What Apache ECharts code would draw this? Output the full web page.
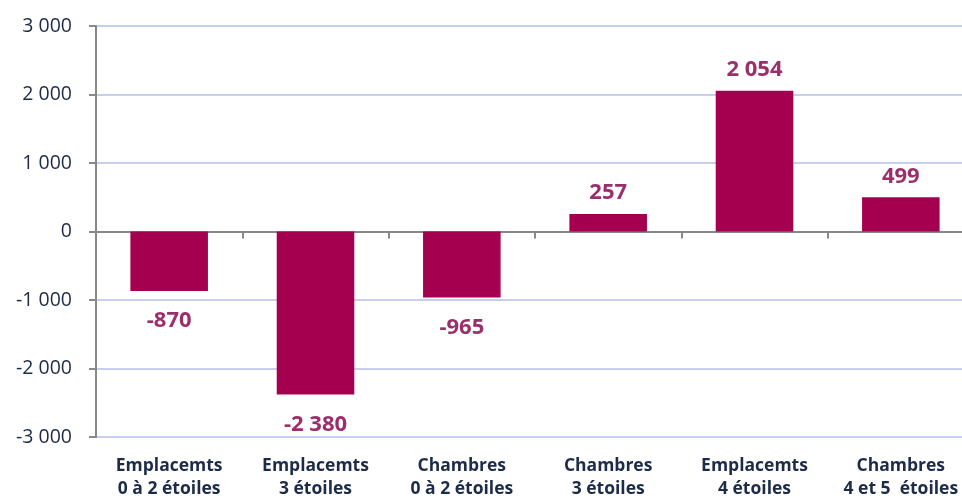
<!DOCTYPE html>
<html>
<head>
<meta charset="utf-8">
<script src="https://cdn.jsdelivr.net/npm/echarts@6/dist/echarts.min.js"></script>
<style>
  * { margin: 0; padding: 0; }
  body { background: #fff; }
</style>
</head>
<body>
<div id="mychart" style="width: 962px; height: 501px;"></div>
<script>
const catName = ['Emplacemts\n0 à 2 étoiles', 'Emplacemts\n3 étoiles', 'Chambres\n0 à 2 étoiles', 'Chambres\n3 étoiles', 'Emplacemts\n4 étoiles', 'Chambres\n4 et 5  étoiles'];
const values = [-870, -2380, -965, 257, 2054, 499];
const yTicks = [-3000, -2000, -1000, 0, 1000, 2000, 3000];

function fmt(v) {
  const s = String(Math.abs(v)).replace(/\B(?=(\d{3})+(?!\d))/g, ' ');
  return (v < 0 ? '-' : '') + s;
}

var chart = echarts.init(document.getElementById('mychart'));
const option = {
  animation: false,
  grid: {
    left: 96,
    top: 26,
    right: -12,
    bottom: 64,
    outerBoundsMode: 'none'
  },
  xAxis: [
    {
      type: 'category',
      data: catName,
      axisLine: { onZero: true, lineStyle: { color: '#888888', width: 2 } },
      axisTick: { show: true, length: 7, lineStyle: { color: '#888888', width: 2 } },
      axisLabel: { show: false }
    },
    {
      type: 'category',
      data: catName,
      position: 'bottom',
      axisLine: { show: false, onZero: false },
      axisTick: { show: false },
      axisLabel: {
        color: '#1C2B47',
        fontFamily: 'Open Sans',
        fontWeight: 'bold',
        fontSize: 17.5,
        lineHeight: 23,
        margin: 18,
        interval: 0
      }
    }
  ],
  yAxis: {
    type: 'value',
    min: -3000,
    max: 3000,
    interval: 1000,
    axisLine: { show: true, lineStyle: { color: '#888888', width: 2 } },
    axisTick: { show: true, length: 7, lineStyle: { color: '#888888', width: 2 } },
    splitLine: { lineStyle: { color: '#C6D0EE', width: 2 } },
    axisLabel: {
      color: '#1C2B47',
      fontFamily: 'Open Sans',
      fontSize: 19.5,
      margin: 24,
      formatter: function (v) { return yTicks.indexOf(v) >= 0 ? fmt(v) : ''; }
    }
  },
  series: [
    {
      type: 'bar',
      xAxisIndex: 0,
      barWidth: '53%',
      data: values.map(function (v) {
        return {
          value: v,
          label: v < 0 ? { position: 'bottom', distance: 19 } : { position: 'top', distance: 10 }
        };
      }),
      itemStyle: { color: '#A50050' },
      label: {
        show: true,
        color: '#9B2F6C',
        fontFamily: 'Open Sans',
        fontWeight: 'bold',
        fontSize: 22,
        formatter: function (p) { return fmt(p.value); }
      }
    }
  ]
};
chart.setOption(option);
window.addEventListener('resize', function () {
  chart.resize();
});
</script>
</body>
</html>
